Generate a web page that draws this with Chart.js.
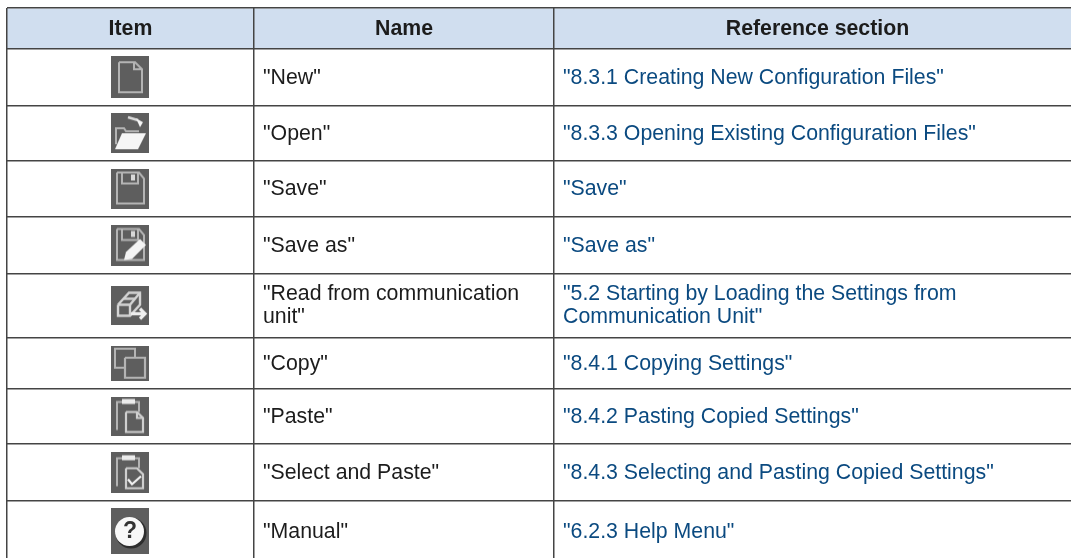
<!DOCTYPE html>
<html lang="en">

<head>
    <meta charset="UTF-8">
    <title>Toolbar items</title>
    <style>
        html, body { margin: 0; padding: 0; background: #fff; overflow: hidden; }
        canvas { display: block; }
    </style>
</head>

<body>
    <canvas id="myChart" width="1071" height="558"></canvas>
    <script src="https://cdn.jsdelivr.net/npm/chart.js"></script>
    <script>
        const headers = ['Item', 'Name', 'Reference section'];
        const itemIcons = ['new', 'open', 'save', 'saveAs', 'read', 'copy', 'paste', 'select', 'manual'];
        const itemNames = ['"New"', '"Open"', '"Save"', '"Save as"', '"Read from communication\nunit"',
            '"Copy"', '"Paste"', '"Select and Paste"', '"Manual"'];
        const references = ['"8.3.1 Creating New Configuration Files"', '"8.3.3 Opening Existing Configuration Files"',
            '"Save"', '"Save as"', '"5.2 Starting by Loading the Settings from\nCommunication Unit"',
            '"8.4.1 Copying Settings"', '"8.4.2 Pasting Copied Settings"',
            '"8.4.3 Selecting and Pasting Copied Settings"', '"6.2.3 Help Menu"'];

        // table layout, in the units of the two axes
        const columnWidths = [247, 300, 517];
        const headerNudge = [0, 0, 5];
        const headerHeight = 40.5;
        const rowHeights = [57.5, 54.5, 56, 57, 64.5, 50.5, 55, 57.5, 60];
        const iconHeights = [42, 40, 40, 41, 39, 35, 39, 41, 46];

        const sum = (list, n) => list.slice(0, n).reduce((a, b) => a + b, 0);
        const columnEdges = columnWidths.map((w, i) => sum(columnWidths, i));
        const rowEdges = [0, headerHeight].concat(rowHeights.slice(0, -1).map((h, i) => headerHeight + sum(rowHeights, i + 1)));
        const rowMiddle = (i) => headerHeight + sum(rowHeights, i) + rowHeights[i] / 2;
        const tableWidth = sum(columnWidths, 3);
        const tableHeight = 550;

        function drawIcon(name, h) {
            const c = document.createElement('canvas');
            c.width = 38;
            c.height = h;
            const g = c.getContext('2d');
            g.fillStyle = '#5e5e5e';
            g.fillRect(0, 0, 38, h);
            g.filter = 'blur(0.6px)';
            if (name !== 'copy') g.translate(0, (h - 40) / 2);
            g.lineWidth = 2;
            g.strokeStyle = '#b4b4b4';
            g.fillStyle = '#f6f6f6';
            const line = (pts, fill) => {
                g.beginPath();
                pts.forEach((p, i) => i ? g.lineTo(p[0], p[1]) : g.moveTo(p[0], p[1]));
                fill ? g.fill() : g.stroke();
            };
            if (name === 'new') {
                line([[8, 5], [24, 5], [31, 12], [31, 35], [8, 35], [8, 5]]);
                line([[23, 5], [23, 12], [31, 12]]);
            } else if (name === 'open') {
                line([[5, 31], [5, 15], [13, 15], [15, 18], [28, 18]]);
                line([[11, 20], [35, 20], [27, 36], [4, 36]], true);
                g.strokeStyle = '#dcdcdc';
                g.lineWidth = 2.5;
                line([[17, 4], [27, 7]]);
                line([[25, 5], [32, 9], [29, 14]], true);
            } else if (name === 'save' || name === 'saveAs') {
                line([[6, 4], [28, 4], [33, 10], [33, 35], [6, 35], [6, 4]]);
                line([[11, 4], [11, 15], [27, 15], [27, 4]]);
                g.fillStyle = '#d8d8d8';
                g.fillRect(20, 6, 4, 6);
                if (name === 'saveAs') {
                    g.fillStyle = '#f4f4f4';
                    line([[29, 14], [35, 20], [21, 34], [13, 35], [15, 27]], true);
                }
            } else if (name === 'read') {
                g.lineWidth = 2.4;
                g.strokeStyle = '#d4d4d4';
                line([[7, 19], [18, 7], [29, 7], [29, 19], [19, 30], [7, 30], [7, 19]]);
                line([[7, 19], [19, 19], [29, 7]]);
                line([[19, 19], [19, 30]]);
                line([[13, 13], [24, 13]]);
                g.lineWidth = 3.2;
                g.strokeStyle = '#efefef';
                line([[20, 28], [33, 28]]);
                line([[29, 23], [34, 28], [29, 33]]);
            } else if (name === 'copy') {
                line([[14, 22], [4, 22], [4, 3], [24, 3], [24, 12]]);
                g.lineWidth = 2.2;
                line([[14, 12], [34, 12], [34, 32], [14, 32], [14, 12]]);
            } else if (name === 'paste' || name === 'select') {
                line([[6, 34], [6, 6], [28, 6], [28, 16]]);
                g.fillStyle = '#ececec';
                g.fillRect(11, 3, 13, 5);
                g.lineWidth = 2.2;
                g.strokeStyle = '#cfcfcf';
                line([[15, 16], [26, 16], [32, 22], [32, 36], [15, 36], [15, 16]]);
                if (name === 'select') {
                    g.strokeStyle = '#f4f4f4';
                    line([[17, 27], [21, 32], [30, 24]]);
                } else {
                    line([[26, 16], [26, 22], [32, 22]]);
                }
            } else {
                g.fillStyle = '#2e2e2e';
                g.beginPath();
                g.arc(20, 22, 15.5, 0, Math.PI * 2);
                g.fill();
                g.fillStyle = '#f8f8f8';
                g.beginPath();
                g.arc(18.5, 20.5, 14.5, 0, Math.PI * 2);
                g.fill();
                g.fillStyle = '#333';
                g.font = 'bold 23px "Liberation Sans"';
                g.textAlign = 'center';
                g.textBaseline = 'middle';
                g.fillText('?', 19, 21);
            }
            return c;
        }

        const tableText = {
            id: 'tableText',
            afterDatasetsDraw(chart) {
                const { ctx, scales: { x, y } } = chart;
                ctx.save();
                ctx.textBaseline = 'middle';
                ctx.font = 'bold 21.3px "Liberation Sans"';
                ctx.fillStyle = '#1c1c1c';
                ctx.textAlign = 'center';
                headers.forEach((text, i) => {
                    ctx.fillText(text, x.getPixelForValue(columnEdges[i] + columnWidths[i] / 2 + headerNudge[i]), y.getPixelForValue(headerHeight / 2) + 1);
                });
                ctx.textAlign = 'left';
                ctx.font = '21.3px "Liberation Sans"';
                const cell = (text, col, row) => {
                    const lines = text.split('\n');
                    lines.forEach((t, j) => {
                        const off = lines.length > 1 ? (j - 0.5) * 23 : 1;
                        ctx.fillText(t, x.getPixelForValue(columnEdges[col] + 9), y.getPixelForValue(rowMiddle(row)) + off);
                    });
                };
                ctx.fillStyle = '#1c1c1c';
                itemNames.forEach((t, i) => cell(t, 1, i));
                ctx.fillStyle = '#0b4a80';
                references.forEach((t, i) => cell(t, 2, i));
                ctx.restore();
            }
        };

        new Chart(document.getElementById('myChart'), {
            type: 'scatter',
            plugins: [tableText],
            data: {
                datasets: [{
                    type: 'bar',
                    data: [{ x: tableWidth / 2, y: [0, headerHeight] }],
                    barThickness: tableWidth,
                    backgroundColor: '#d0deef',
                    borderWidth: 0
                }, {
                    data: itemIcons.map((n, i) => ({ x: columnWidths[0] / 2 - 0.5, y: rowMiddle(i) })),
                    pointStyle: itemIcons.map((n, i) => drawIcon(n, iconHeights[i])),
                    pointRadius: 20
                }]
            },
            options: {
                responsive: false,
                animation: false,
                events: [],
                layout: { autoPadding: false, padding: { left: 7, top: 8, right: 0, bottom: 0 } },
                plugins: { legend: { display: false }, tooltip: { enabled: false } },
                scales: {
                    x: {
                        type: 'linear', min: 0, max: tableWidth, offset: false,
                        afterBuildTicks: (s) => { s.ticks = columnEdges.map((v) => ({ value: v })); },
                        ticks: { display: false, autoSkip: false },
                        grid: { color: '#444444', lineWidth: 1.5, drawTicks: false, z: 1, offset: false },
                        border: { display: false }
                    },
                    y: {
                        type: 'linear', min: 0, max: tableHeight, reverse: true, offset: false,
                        afterBuildTicks: (s) => { s.ticks = rowEdges.map((v) => ({ value: v })); },
                        ticks: { display: false, autoSkip: false },
                        grid: { color: '#444444', lineWidth: 1.5, drawTicks: false, z: 1, offset: false },
                        border: { display: false }
                    }
                }
            }
        });
    </script>
</body>

</html>
